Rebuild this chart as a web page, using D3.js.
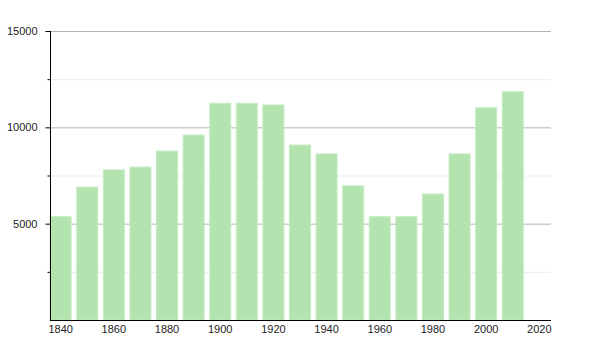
<!DOCTYPE html>
<html>
<head>
<meta charset="utf-8">
<style>
body { margin: 0; background: #fff; }
text { font-family: "Liberation Sans", Arial, sans-serif; }
</style>
</head>
<body>
<script src="https://cdn.jsdelivr.net/npm/d3@7"></script>
<script>
// population by census year
var years = [1840, 1850, 1860, 1870, 1880, 1890, 1900, 1910, 1920, 1930, 1940, 1950, 1960, 1970, 1980, 1990, 2000, 2010];
var values = [5360, 6900, 7790, 7940, 8770, 9600, 11250, 11250, 11160, 9080, 8620, 6960, 5360, 5360, 6540, 8620, 11020, 11850];
var majorTicks = [5000, 10000, 15000];
var minorTicks = [2500, 7500, 12500];
var xTicks = [1840, 1860, 1880, 1900, 1920, 1940, 1960, 1980, 2000, 2020];

var width = 600, height = 350;
var plotLeft = 50, plotRight = 550, plotTop = 31, plotBottom = 320;

var svg = d3.select("body").append("svg")
    .attr("width", width)
    .attr("height", height);

var x = d3.scaleLinear().domain([1836, 2024]).range([plotLeft, plotRight]);
var y = d3.scaleLinear().domain([0, 15000]).range([plotBottom, plotTop]);

// grid lines
svg.selectAll("line.minor")
    .data(minorTicks)
    .join("line")
    .attr("class", "minor")
    .attr("x1", plotLeft).attr("x2", plotRight + 1)
    .attr("y1", d => y(d) + 0.5).attr("y2", d => y(d) + 0.5)
    .attr("stroke", "#ececec");

svg.selectAll("line.major")
    .data(majorTicks)
    .join("line")
    .attr("class", "major")
    .attr("x1", plotLeft).attr("x2", plotRight + 1)
    .attr("y1", d => y(d) + 0.5).attr("y2", d => y(d) + 0.5)
    .attr("stroke", "#b4b4b4");

// bars
var barW = 21;
svg.selectAll("rect.bar")
    .data(years)
    .join("rect")
    .attr("class", "bar")
    .attr("x", d => x(d) - barW / 2)
    .attr("y", (d, i) => y(values[i]))
    .attr("width", barW)
    .attr("height", (d, i) => y(0) - y(values[i]))
    .attr("fill", "#b3e4b0")
    .attr("stroke", "#c4ecc1")
    .attr("stroke-width", 1);

// y axis
var yAxis = svg.append("g").attr("transform", "translate(" + (plotLeft + 0.5) + ",0)");
yAxis.append("line")
    .attr("y1", plotTop).attr("y2", plotBottom + 1)
    .attr("stroke", "#000");
yAxis.selectAll("line.tk")
    .data(majorTicks)
    .join("line")
    .attr("class", "tk")
    .attr("x1", -5).attr("x2", 0)
    .attr("y1", d => y(d) + 0.5).attr("y2", d => y(d) + 0.5)
    .attr("stroke", "#000");
yAxis.selectAll("line.mk")
    .data(minorTicks)
    .join("line")
    .attr("class", "mk")
    .attr("x1", -3).attr("x2", 0)
    .attr("y1", d => y(d) + 0.5).attr("y2", d => y(d) + 0.5)
    .attr("stroke", "#000");
yAxis.selectAll("text")
    .data(majorTicks)
    .join("text")
    .attr("x", -13)
    .attr("y", d => y(d) + 4)
    .attr("text-anchor", "end")
    .attr("font-size", 11)
    .attr("fill", "#222")
    .text(d => d);

// x axis
var xAxis = svg.append("g").attr("transform", "translate(0," + (plotBottom + 0.5) + ")");
xAxis.append("line")
    .attr("x1", plotLeft).attr("x2", plotRight + 1)
    .attr("stroke", "#000");
xAxis.selectAll("text")
    .data(xTicks)
    .join("text")
    .attr("x", d => x(d))
    .attr("y", 12)
    .attr("text-anchor", "middle")
    .attr("font-size", 11)
    .attr("fill", "#222")
    .text(d => d);
</script>
</body>
</html>
